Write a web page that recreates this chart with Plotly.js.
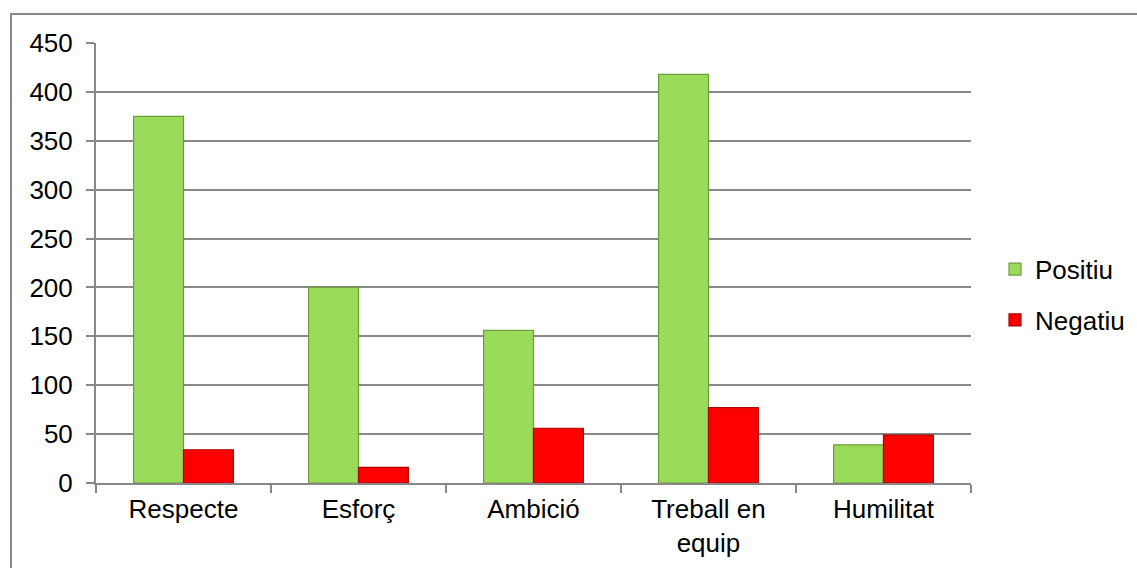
<!DOCTYPE html>
<html>
<head>
<meta charset="utf-8">
<script src="https://cdn.plot.ly/plotly-3.0.1.min.js"></script>
<style>html,body{margin:0;padding:0;background:#fff;}#chart{width:1137px;height:568px;}</style>
</head>
<body>
<div id="chart"></div>
<script>
var categories = ["Respecte", "Esforç", "Ambició", "Treball en<br>equip", "Humilitat"];
var positiu = [375, 200, 156, 418, 39];
var negatiu = [34, 16, 56, 77, 49];
var yTicks = [0, 50, 100, 150, 200, 250, 300, 350, 400, 450];

var traces = [
  {type: "bar", name: "Positiu", x: categories, y: positiu, legendgroup: "a",
   marker: {color: "#9BDB5A", line: {color: "#6E9E3C", width: 1.2}}},
  {type: "bar", name: "Negatiu", x: categories, y: negatiu, legendgroup: "b",
   marker: {color: "#FF0000", line: {color: "#B00000", width: 1.2}}}
];

var layout = {
  width: 1137, height: 568,
  margin: {l: 96, r: 0, t: 43, b: 85, autoexpand: false},
  paper_bgcolor: "#fff", plot_bgcolor: "#fff",
  font: {family: "Liberation Sans, Arial, sans-serif", size: 26, color: "#000"},
  barmode: "group", bargap: 0.43, bargroupgap: 0,
  showlegend: true,
  legend: {x: 0.8636, xanchor: "left", y: 0.428, yanchor: "middle",
           traceorder: "grouped", tracegroupgap: 14,
           font: {size: 26}, itemwidth: 30},
  xaxis: {type: "category", domain: [0, 0.8405], showline: true, linecolor: "#888", linewidth: 2,
          ticks: "outside", tickson: "boundaries", ticklen: 8, tickcolor: "#888", tickwidth: 2,
          showgrid: false, tickfont: {size: 26}, ticklabelstandoff: 2},
  yaxis: {range: [0, 450], tickvals: yTicks, ticktext: yTicks.map(String),
          showline: true, linecolor: "#888", linewidth: 2,
          ticks: "outside", ticklen: 8, tickcolor: "#888", tickwidth: 2,
          showgrid: true, gridcolor: "#888", gridwidth: 2, zeroline: false,
          tickfont: {size: 26}, ticklabelstandoff: 8},
  shapes: [{type: "rect", xref: "paper", yref: "paper",
            x0: -0.08165, x1: 1.1, y0: -0.3, y1: 1.0659,
            line: {color: "#888", width: 2}, fillcolor: "rgba(0,0,0,0)", layer: "below"}]
};

Plotly.newPlot("chart", traces, layout, {displayModeBar: false, staticPlot: true});
</script>
</body>
</html>
